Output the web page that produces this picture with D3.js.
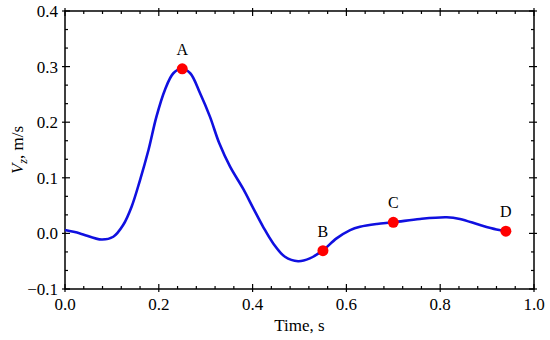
<!DOCTYPE html>
<html><head><meta charset="utf-8">
<script src="https://cdn.jsdelivr.net/npm/d3@7"></script>
<style>body{margin:0;background:#fff}svg{display:block}</style>
</head><body>
<svg id="c" width="550" height="340"></svg>
<script>
const times  = [0.0, 0.032, 0.078, 0.103, 0.124, 0.142, 0.160, 0.178, 0.195, 0.213, 0.231, 0.249, 0.267, 0.288, 0.309, 0.329, 0.352, 0.380, 0.401, 0.423, 0.444, 0.469, 0.497, 0.522, 0.549, 0.579, 0.608, 0.629, 0.665, 0.701, 0.757, 0.814, 0.842, 0.885, 0.920, 0.940];
const values = [0.006, 0.000, -0.011, -0.006, 0.015, 0.048, 0.096, 0.150, 0.210, 0.258, 0.288, 0.296, 0.288, 0.252, 0.210, 0.162, 0.120, 0.080, 0.046, 0.011, -0.018, -0.042, -0.050, -0.045, -0.031, -0.009, 0.006, 0.012, 0.017, 0.020, 0.026, 0.029, 0.026, 0.015, 0.007, 0.004];
const pointNames = ["A", "B", "C", "D"];
const pointTimes = [0.25, 0.55, 0.70, 0.94];
const pointValues = [0.296, -0.031, 0.020, 0.004];
const xTicks = [0.0, 0.2, 0.4, 0.6, 0.8, 1.0];
const yTicks = [-0.1, 0.0, 0.1, 0.2, 0.3, 0.4];

const svg = d3.select("#c");
const L = 65, R = 534, T = 11, B = 289;
const x = d3.scaleLinear().domain([0, 1]).range([L, R]);
const y = d3.scaleLinear().domain([-0.1, 0.4]).range([B, T]);
const font = "'Liberation Serif','Times New Roman',serif";

const xMinor = d3.range(0, 26).map(i => i * 0.04).filter((v, i) => i % 5 !== 0);
const yMinor = d3.range(0, 16).map(i => -0.1 + i / 30).filter((v, i) => i % 3 !== 0);
const g = svg.append("g").attr("stroke", "#000").attr("stroke-width", 1.2);
xMinor.forEach(v => {
  g.append("line").attr("x1", x(v)).attr("x2", x(v)).attr("y1", B).attr("y2", B-3);
  g.append("line").attr("x1", x(v)).attr("x2", x(v)).attr("y1", T).attr("y2", T+3);
});
yMinor.forEach(v => {
  g.append("line").attr("y1", y(v)).attr("y2", y(v)).attr("x1", L).attr("x2", L+3);
  g.append("line").attr("y1", y(v)).attr("y2", y(v)).attr("x1", R).attr("x2", R-3);
});
xTicks.forEach(v => {
  g.append("line").attr("x1", x(v)).attr("x2", x(v)).attr("y1", B+3).attr("y2", B-5);
  g.append("line").attr("x1", x(v)).attr("x2", x(v)).attr("y1", T-3).attr("y2", T+5);
});
yTicks.forEach(v => {
  g.append("line").attr("y1", y(v)).attr("y2", y(v)).attr("x1", L-3).attr("x2", L+5);
  g.append("line").attr("y1", y(v)).attr("y2", y(v)).attr("x1", R+3).attr("x2", R-5);
});

svg.append("rect").attr("x", L).attr("y", T).attr("width", R-L).attr("height", B-T)
  .attr("fill", "none").attr("stroke", "#000").attr("stroke-width", 1.5);

svg.append("g").selectAll("text").data(xTicks).join("text")
  .attr("x", d => x(d)).attr("y", 310).attr("text-anchor", "middle")
  .attr("font-family", font).attr("font-size", 17).text(d => d.toFixed(1));
svg.append("g").selectAll("text").data(yTicks).join("text")
  .attr("x", 58).attr("y", d => y(d) + 6).attr("text-anchor", "end")
  .attr("font-family", font).attr("font-size", 17).text(d => d < 0 ? "\u2212" + Math.abs(d).toFixed(1) : d.toFixed(1));

svg.append("text").attr("x", x(0.5)).attr("y", 331).attr("text-anchor", "middle")
  .attr("font-family", font).attr("font-size", 17).text("Time, s");
const yl = svg.append("text").attr("transform", `translate(23,${(T+B)/2}) rotate(-90)`)
  .attr("text-anchor", "middle").attr("font-family", font).attr("font-size", 17);
yl.append("tspan").attr("font-style", "italic").text("V");
yl.append("tspan").attr("font-style", "italic").attr("font-size", 12).attr("dy", 4).text("z");
yl.append("tspan").attr("dy", -4).text(", m/s");

const data = times.map((t, i) => [t, values[i]]);
svg.append("path").datum(data)
  .attr("d", d3.line().x(d => x(d[0])).y(d => y(d[1])).curve(d3.curveCatmullRom.alpha(0.5)))
  .attr("fill", "none").attr("stroke", "#1010e0").attr("stroke-width", 2.6);

const pts = pointNames.map((n, i) => ({n, t: pointTimes[i], v: pointValues[i]}));
svg.append("g").selectAll("circle").data(pts).join("circle")
  .attr("cx", d => x(d.t)).attr("cy", d => y(d.v)).attr("r", 5.5).attr("fill", "#ff0000");
svg.append("g").selectAll("text").data(pts).join("text")
  .attr("x", d => x(d.t)).attr("y", d => y(d.v) - 14).attr("text-anchor", "middle")
  .attr("font-family", font).attr("font-size", 16).text(d => d.n);
</script>
</body></html>
